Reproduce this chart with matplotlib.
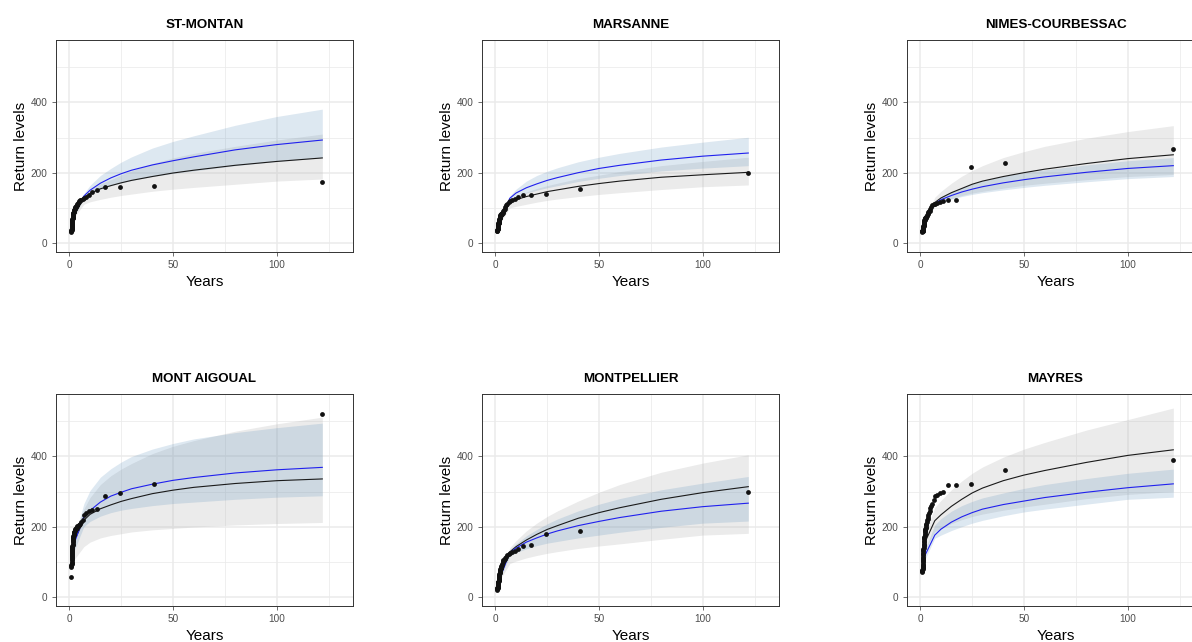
import matplotlib
matplotlib.use("Agg")
import matplotlib.pyplot as plt
from matplotlib.ticker import MultipleLocator

plt.rcParams['font.family'] = ['Liberation Sans', 'DejaVu Sans']

stations = ["ST-MONTAN", "MARSANNE", "NIMES-COURBESSAC",
            "MONT AIGOUAL", "MONTPELLIER", "MAYRES"]

# empirical return periods (years), largest event first
t_emp = [122, 40.67, 24.4, 17.43, 13.56, 11.09, 9.38, 8.13, 7.18, 6.42,
         5.81, 5.30, 4.88, 4.52, 4.21, 3.94, 3.70, 3.49, 3.30, 3.13,
         2.98, 2.84, 2.71, 2.60, 2.49, 2.39, 2.30, 2.22, 2.14, 2.07,
         2.00, 1.94, 1.88, 1.82, 1.77, 1.72, 1.67, 1.63, 1.58, 1.54,
         1.51, 1.47, 1.44, 1.40, 1.37, 1.34, 1.31, 1.28, 1.26, 1.23,
         1.21, 1.18, 1.16, 1.14, 1.12, 1.10, 1.08, 1.06, 1.04, 1.02, 1.01]

obs = [
    [174, 162, 160, 160, 152, 144, 137, 132, 129, 126,
     123, 121, 118, 116, 113, 111, 109, 107, 105, 103,
     102, 100, 98, 97, 95, 93, 92, 90, 89, 87,
     86, 84, 82, 80, 78, 76, 74, 72, 70, 68,
     66, 64, 62, 60, 58, 56, 54, 52, 50, 48,
     46, 45, 44, 42, 41, 40, 38, 37, 35, 33, 30],
    [198, 153, 138, 137, 135, 130, 126, 122, 119, 116,
     112, 108, 103, 97, 93, 90, 88, 86, 84, 83,
     82, 81, 80, 79, 78, 77, 76, 74, 72, 70,
     68, 66, 64, 62, 61, 60, 59, 58, 57, 56,
     55, 54, 53, 52, 51, 50, 49, 48, 47, 46,
     45, 44, 43, 42, 41, 40, 39, 38, 37, 35, 34],
    [267, 228, 215, 122, 122, 120, 117, 114, 111, 110,
     108, 102, 96, 92, 90, 87, 84, 81, 79, 77,
     75, 74, 73, 72, 71, 70, 69, 68, 67, 66,
     64, 62, 60, 58, 56, 54, 52, 50, 48, 47,
     46, 45, 44, 43, 42, 41, 40, 39, 38.5, 38,
     37.5, 37, 36.5, 36, 35.5, 35, 34.5, 34, 33.5, 33, 32],
    [521, 322, 296, 287, 251, 247, 245, 240, 232, 220,
     212, 208, 206, 204, 203, 201, 199, 197, 195, 193,
     192, 191, 190, 188, 186, 184, 182, 180, 178, 176,
     174, 171, 168, 165, 162, 158, 155, 152, 149, 146,
     143, 140, 137, 134, 131, 128, 125, 122, 119, 116,
     113, 110, 107, 104, 100, 97, 94, 91, 88, 85, 57],
    [300, 187, 178, 149, 144, 136, 131, 127, 124, 121,
     118, 115, 112, 108, 106, 104, 102, 100, 95, 90,
     87, 85, 83, 81, 79, 77, 75, 73, 71, 69,
     66, 63, 60, 57, 54, 51, 49, 47, 45, 43,
     42, 41, 40, 39, 38, 37, 36, 35, 34, 33,
     32, 31, 30, 29, 28, 27, 26, 25, 24, 23, 21],
    [390, 362, 321, 320, 318, 299, 296, 291, 287, 275,
     266, 260, 252, 245, 240, 233, 228, 222, 218, 212,
     208, 204, 200, 197, 194, 191, 188, 184, 180, 176,
     172, 168, 164, 160, 156, 152, 148, 144, 140, 136,
     133, 130, 126, 122, 118, 114, 110, 107, 104, 101,
     98, 95, 92, 89, 86, 83, 80, 77, 75, 73, 70],
]

# fitted return level curves and their bands
t_fit = [1.6, 7, 10, 15, 20, 25, 30, 40, 50, 60, 80, 100, 122]

fit_black = [
    [70, 128, 141, 154, 163, 171, 178, 189, 199, 207, 221, 232, 242],
    [55, 115, 123, 132, 139, 146, 151, 161, 169, 176, 187, 194, 201],
    [50, 115, 128, 143, 155, 167, 176, 189, 200, 210, 226, 240, 251],
    [150, 218, 235, 251, 262, 272, 280, 294, 304, 312, 323, 331, 336],
    [45, 128, 143, 162, 178, 192, 203, 224, 240, 254, 278, 297, 314],
    [147, 217, 234, 258, 278, 296, 310, 331, 347, 360, 383, 403, 419],
]
black_lo = [
    [66, 110, 117, 124, 130, 135, 139, 147, 153, 158, 167, 176, 182],
    [50, 100, 104, 110, 116, 121, 125, 132, 138, 143, 152, 160, 165],
    [47, 105, 115, 126, 135, 142, 147, 156, 164, 170, 180, 189, 195],
    [100, 143, 156, 168, 175, 180, 185, 191, 195, 199, 205, 209, 212],
    [42, 95, 102, 111, 118, 124, 129, 138, 145, 151, 164, 176, 181],
    [125, 186, 195, 209, 220, 229, 236, 247, 256, 264, 280, 292, 300],
]
black_hi = [
    [74, 135, 150, 168, 180, 194, 205, 226, 242, 255, 275, 293, 310],
    [57, 120, 132, 145, 155, 163, 170, 183, 193, 203, 220, 232, 244],
    [53, 130, 147, 170, 190, 206, 220, 243, 260, 275, 298, 317, 334],
    [160, 250, 283, 320, 345, 364, 380, 408, 429, 445, 472, 493, 512],
    [47, 140, 160, 188, 210, 229, 245, 273, 298, 320, 355, 381, 405],
    [165, 255, 275, 305, 330, 352, 370, 398, 421, 440, 475, 505, 538],
]
fit_blue = [
    [72, 133, 150, 170, 185, 197, 207, 222, 234, 245, 265, 280, 293],
    [55, 127, 142, 157, 168, 178, 186, 200, 212, 221, 236, 247, 256],
    [50, 112, 123, 135, 145, 153, 160, 171, 180, 188, 201, 212, 220],
    [140, 228, 246, 270, 287, 298, 308, 321, 332, 340, 353, 362, 369],
    [45, 126, 139, 156, 168, 179, 188, 203, 215, 226, 244, 257, 267],
    [110, 176, 193, 213, 228, 240, 250, 263, 273, 283, 298, 311, 322],
]
blue_lo = [
    [68, 126, 139, 153, 163, 171, 178, 189, 198, 205, 220, 232, 243],
    [53, 120, 130, 142, 150, 157, 163, 175, 184, 192, 205, 213, 220],
    [48, 106, 115, 125, 132, 138, 143, 151, 158, 164, 174, 183, 189],
    [120, 200, 215, 230, 240, 247, 252, 260, 266, 270, 278, 284, 288],
    [43, 116, 126, 137, 146, 153, 158, 168, 176, 184, 198, 210, 216],
    [98, 167, 176, 189, 200, 210, 218, 231, 242, 250, 264, 278, 284],
]
blue_hi = [
    [76, 140, 164, 192, 212, 230, 245, 270, 289, 305, 335, 360, 381],
    [57, 134, 153, 176, 192, 204, 214, 231, 244, 255, 273, 287, 301],
    [52, 118, 131, 146, 157, 168, 177, 190, 200, 208, 222, 234, 243],
    [150, 265, 303, 341, 365, 384, 400, 421, 437, 450, 468, 482, 495],
    [47, 134, 151, 174, 192, 208, 222, 245, 264, 280, 305, 324, 343],
    [125, 205, 223, 244, 260, 272, 282, 296, 309, 320, 337, 352, 364],
]

W, H = 1192, 642
fig = plt.figure(figsize=(W / 100, H / 100), dpi=100)

lefts = [56, 482, 907]
tops = [40, 394]
pw, ph = 297, 212

for i, name in enumerate(stations):
    r, c = divmod(i, 3)
    ax = fig.add_axes([lefts[c] / W, 1 - (tops[r] + ph) / H, pw / W, ph / H])
    ax.set_axisbelow(True)

    ax.fill_between(t_fit, black_lo[i], black_hi[i], color='#bdbdbd', alpha=0.3, lw=0)
    ax.fill_between(t_fit, blue_lo[i], blue_hi[i], color='steelblue', alpha=0.18, lw=0)
    ax.plot(t_fit, fit_black[i], color='#1a1a1a', lw=0.8)
    ax.plot(t_fit, fit_blue[i], color='#2020ee', lw=0.8)
    ax.scatter(t_emp, obs[i], s=12, color='#111111', lw=0, zorder=3)

    ax.set_xlim(-6.4, 136.8)
    ax.set_ylim(-26, 578)
    ax.xaxis.set_major_locator(MultipleLocator(50))
    ax.xaxis.set_minor_locator(MultipleLocator(25))
    ax.yaxis.set_major_locator(MultipleLocator(200))
    ax.yaxis.set_minor_locator(MultipleLocator(100))
    ax.grid(which='major', color='#ebebeb', lw=1.1)
    ax.grid(which='minor', color='#ebebeb', lw=0.55)
    ax.tick_params(which='major', direction='out', length=2.75, width=0.5,
                   color='#333333', labelcolor='#4d4d4d', labelsize=7.2, pad=3.2)
    ax.tick_params(which='minor', length=0)
    for s in ax.spines.values():
        s.set_color('#333333')
        s.set_linewidth(0.7)

    ax.set_title(name, fontsize=9.6, fontweight='bold', pad=8.4)
    ax.set_xlabel("Years", fontsize=11, labelpad=3.2)
    ax.set_ylabel("Return levels", fontsize=11, labelpad=2.2)

fig.savefig("out.png", dpi=100)
